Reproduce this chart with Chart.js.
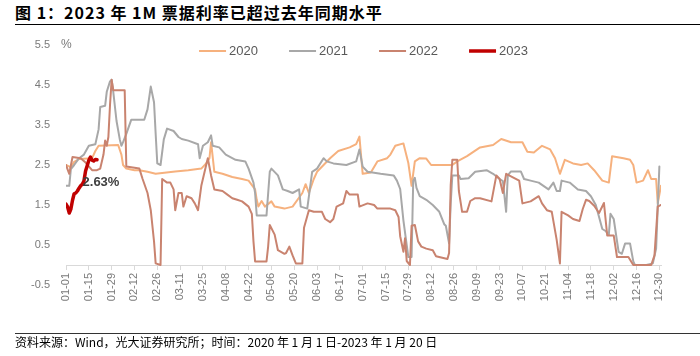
<!DOCTYPE html>
<html><head><meta charset="utf-8">
<script src="https://cdn.jsdelivr.net/npm/chart.js@4/dist/chart.umd.min.js"></script>
<style>
html,body{margin:0;padding:0;background:#fff;}
#wrap{position:relative;width:700px;height:356px;overflow:hidden;background:#fff;}
#title{position:absolute;left:15px;top:0;line-height:24px;font-weight:bold;font-size:16px;letter-spacing:1px;font-family:"Noto Sans CJK SC";color:#000;white-space:nowrap;}
#tline{position:absolute;left:15px;right:0;top:24px;height:1px;background:#000;}
#fline{position:absolute;left:15px;right:0;top:333px;height:1px;background:#333;}
#foot{position:absolute;left:15px;top:334px;line-height:16px;font-size:12px;font-family:"Noto Sans CJK SC";color:#000;white-space:nowrap;}
canvas{position:absolute;left:0;top:0;}
</style></head>
<body><div id="wrap">
<div id="title">图 1：2023 年 1M 票据利率已超过去年同期水平</div>
<div id="tline"></div>
<canvas id="c" width="700" height="356"></canvas>
<div id="fline"></div>
<div id="foot">资料来源：Wind，光大证券研究所；时间：2020 年 1 月 1 日-2023 年 1 月 20 日</div>
</div>
<script>
const tickLabels = ['01-01','01-15','01-29','02-12','02-26','03-11','03-25','04-08','04-22','05-06','05-20','06-03','06-17','07-01','07-15','07-29','08-12','08-26','09-09','09-23','10-07','10-21','11-04','11-18','12-02','12-16','12-30'];
const yTicks = [-0.5,0.5,1.5,2.5,3.5,4.5,5.5];
const seriesNames = ['2020','2021','2022','2023'];
const unitLabel = '%';
const endLabel = '2.63%';

// [day of year index, value]
const s2020 = [[0,2.5],[3,2.44],[5,2.58],[8,2.65],[16,2.67],[18,2.85],[20,2.98],[32,3.0],[34,2.76],[35,2.5],[37,2.41],[42,2.37],[45,2.37],[50,2.33],[55,2.28],[59,2.3],[67,2.34],[75,2.37],[83,2.41],[86,2.54],[88,2.67],[89,3.07],[91,2.33],[96,2.28],[102,2.2],[108,2.15],[112,2.11],[116,1.89],[117,1.63],[118,1.46],[120,1.6],[122,1.46],[126,1.59],[128,1.46],[134,1.41],[139,1.46],[145,1.8],[147,2.02],[149,1.8],[152,2.15],[154,2.33],[158,2.5],[162,2.67],[167,2.85],[174,2.94],[178,3.02],[180,3.21],[182,2.28],[187,2.31],[191,2.59],[197,2.67],[199,2.76],[202,2.98],[207,3.04],[210,2.55],[212,1.98],[214,2.59],[217,2.67],[221,2.66],[224,2.5],[237,2.5],[240,2.59],[246,2.72],[254,2.94],[262,3.0],[267,3.15],[273,3.07],[280,3.07],[283,2.83],[287,2.81],[292,2.98],[297,2.89],[300,2.67],[303,2.28],[306,2.63],[311,2.54],[316,2.5],[320,2.54],[324,2.37],[329,2.11],[333,2.06],[335,2.72],[342,2.67],[346,2.63],[348,2.5],[350,2.06],[354,2.11],[357,2.37],[359,2.15],[362,2.15],[363,1.54],[365,1.98]];
const s2021 = [[0,1.98],[2,1.98],[3,2.4],[5,2.5],[8,2.67],[11,2.76],[14,2.98],[18,3.02],[20,3.39],[21,3.95],[24,3.98],[25,4.33],[27,4.59],[28,4.63],[29,4.33],[31,3.6],[33,3.14],[34,2.98],[35,3.07],[37,3.28],[40,3.63],[48,3.63],[50,3.89],[52,4.46],[54,4.07],[55,3.28],[56,2.54],[58,2.5],[60,3.14],[62,3.41],[66,3.35],[69,3.2],[71,3.15],[75,3.11],[81,3.02],[82,2.67],[84,2.98],[87,3.07],[89,3.24],[90,2.98],[94,2.94],[98,2.76],[104,2.63],[110,2.59],[112,2.41],[115,2.06],[116,1.8],[117,1.24],[123,1.24],[125,2.33],[126,2.41],[130,2.24],[133,1.89],[136,1.85],[139,1.8],[143,1.89],[144,1.46],[148,1.41],[151,2.33],[154,2.41],[158,2.67],[160,2.59],[164,2.54],[172,2.5],[178,2.59],[180,2.89],[182,2.46],[185,2.33],[193,2.28],[201,2.24],[203,2.11],[205,1.9],[207,1.11],[209,0.5],[210,0.2],[212,0.2],[213,2.1],[214,2.18],[215,1.93],[217,1.72],[221,1.63],[225,1.5],[229,1.33],[232,1.02],[233,0.98],[235,0.54],[236,1.54],[237,2.24],[241,2.24],[242,2.15],[247,2.17],[251,2.33],[258,2.37],[262,2.28],[266,2.15],[268,2.1],[270,1.33],[271,2.24],[273,2.34],[279,2.34],[281,2.15],[285,2.11],[290,2.06],[296,1.89],[299,2.06],[301,1.85],[303,1.85],[304,2.11],[309,2.06],[314,1.89],[319,1.85],[322,1.72],[325,1.5],[327,1.2],[329,0.9],[331,0.85],[333,0.76],[334,1.28],[336,1.15],[338,0.6],[339,0.33],[341,0.28],[343,0.54],[346,0.54],[348,0.09],[349,0.0],[356,0.0],[360,0.04],[362,0.41],[364,2.46]];
const s2022 = [[0,2.5],[2,2.28],[4,2.7],[9,2.67],[12,2.56],[16,2.37],[19,2.37],[21,2.41],[23,2.76],[24,3.11],[25,2.98],[26,3.2],[27,4.0],[28,4.63],[29,4.37],[36,4.37],[37,2.46],[45,2.41],[47,2.15],[50,1.8],[52,1.37],[54,0.59],[55,0.04],[58,0.0],[59,2.15],[62,2.06],[64,2.06],[66,1.89],[67,1.37],[69,1.8],[71,1.8],[72,1.46],[74,1.72],[77,1.67],[79,1.54],[81,1.37],[83,1.98],[86,2.5],[87,2.67],[89,2.24],[91,1.89],[96,1.85],[99,1.76],[102,1.67],[105,1.63],[108,1.59],[112,1.46],[114,1.28],[115,0.59],[116,0.09],[123,0.09],[124,0.46],[125,1.0],[128,0.76],[130,0.37],[134,0.28],[135,0.3],[137,0.46],[139,0.24],[141,0.04],[145,0.04],[146,0.93],[149,1.37],[152,1.33],[157,1.33],[159,1.15],[162,1.07],[164,1.15],[166,1.46],[170,1.54],[172,1.85],[174,1.76],[179,1.76],[180,1.46],[185,1.54],[189,1.5],[191,1.41],[199,1.41],[202,1.37],[204,1.2],[205,0.72],[207,0.33],[208,0.67],[209,0.1],[211,0.0],[212,0.98],[214,1.0],[216,0.59],[218,0.46],[221,0.41],[225,0.37],[227,0.22],[234,0.15],[235,0.3],[236,2.0],[237,2.63],[240,2.63],[241,1.85],[243,1.33],[246,1.33],[248,1.6],[251,1.67],[254,1.67],[261,1.59],[264,2.24],[266,2.15],[268,1.8],[270,2.28],[278,2.11],[280,1.54],[285,1.59],[290,1.72],[292,1.54],[295,1.37],[298,1.33],[301,0.63],[303,0.04],[304,1.33],[308,1.24],[311,1.15],[315,1.1],[317,1.4],[319,1.63],[321,1.6],[324,1.48],[327,1.3],[330,1.55],[332,0.74],[336,0.74],[338,0.2],[345,0.2],[348,0.0],[359,0.0],[361,0.24],[363,1.46],[365,1.5]];
// 2023: daily values from 01-01 to 01-20
const v2023 = [1.52,1.45,1.30,1.40,1.62,1.78,1.80,1.85,1.92,1.98,2.02,2.10,2.35,2.48,2.62,2.70,2.62,2.60,2.64,2.63];

const colors = ['#F6B17E','#A8A8A8','#C9836F','#C00000'];
const widths = [2,2,2,3.5];
const orders = [4,3,2,1];

const toXY = arr => arr.map(p => ({x:p[0], y:p[1]}));
const seriesData = [toXY(s2020), toXY(s2021), toXY(s2022), v2023.map((v,i)=>({x:i,y:v}))];

const datasets = seriesNames.map((n,i)=>({
  label:n, data:seriesData[i], borderColor:colors[i], backgroundColor:colors[i],
  borderWidth:widths[i], order:orders[i], pointRadius:0, tension:0, fill:false,
  borderJoinStyle:'round', borderCapStyle:'round'
}));

const legendPlugin = {
  id:'legendLines',
  afterDraw(chart){
    const {ctx, chartArea} = chart;
    ctx.save();
    ctx.font = '13px "Liberation Sans"';
    const sample = 27, gap = 3, pitch = 90;
    const ds = chart.data.datasets;
    const lastW = sample + gap + ctx.measureText(ds[ds.length-1].label).width;
    const total = pitch*(ds.length-1) + lastW;
    const x0 = (chartArea.left + chartArea.right)/2 - total/2;
    const y = chartArea.top + 6;
    ds.forEach((d,i)=>{
      const x = x0 + i*pitch;
      ctx.strokeStyle = d.borderColor;
      ctx.lineWidth = d.borderWidth > 3 ? 3.5 : 2;
      ctx.lineCap = 'butt';
      ctx.beginPath(); ctx.moveTo(x, y); ctx.lineTo(x+sample, y); ctx.stroke();
      ctx.fillStyle = '#595959';
      ctx.textBaseline = 'middle';
      ctx.textAlign = 'left';
      ctx.fillText(d.label, x+sample+gap, y);
    });
    // unit label next to top tick
    const ys = chart.scales.y;
    ctx.font = '12px "Liberation Sans"';
    ctx.fillStyle = '#7a7a7a';
    ctx.fillText(unitLabel, chartArea.left - 5, ys.getPixelForValue(yTicks[yTicks.length-1]));
    ctx.restore();
  },
  afterDatasetsDraw(chart){
    const {ctx} = chart;
    const meta = chart.getDatasetMeta(3);
    const pt = meta.data[meta.data.length-1];
    ctx.save();
    ctx.font = 'bold 13px "Liberation Sans"';
    ctx.fillStyle = '#404040';
    ctx.textAlign = 'center';
    ctx.textBaseline = 'middle';
    ctx.fillText(endLabel, pt.x + 4, pt.y + 23);
    ctx.restore();
  }
};

new Chart(document.getElementById('c'), {
  type:'line',
  data:{datasets},
  plugins:[legendPlugin],
  options:{
    responsive:false, animation:false, devicePixelRatio:1,
    layout:{padding:{left:26,right:39,top:45,bottom:71}},
    plugins:{legend:{display:false}, tooltip:{enabled:false}},
    scales:{
      x:{type:'linear', min:0, max:365, position:{y:0},
        afterBuildTicks: s => { s.ticks = tickLabels.map((_,i)=>({value:i*14})); },
        afterFit: s => { s.height = 10; },
        ticks:{autoSkip:false, maxRotation:90, minRotation:90, padding:4, color:'#7a7a7a',
          font:{size:11, family:'Liberation Sans'}, callback:(v,i)=>tickLabels[i]},
        grid:{drawOnChartArea:false, drawTicks:true, tickLength:4, color:'#d9d9d9'},
        border:{display:true, color:'#d9d9d9', width:1}
      },
      y:{type:'linear', min:-0.5, max:5.5,
        afterBuildTicks: s => { s.ticks = yTicks.map(v=>({value:v})); },
        afterFit: s => { s.width = 40; },
        ticks:{padding:16, color:'#7a7a7a', font:{size:11, family:'Liberation Sans'}, callback:v=>String(v)},
        grid:{display:false, drawTicks:false},
        border:{display:false}
      }
    }
  }
});
</script>
</body></html>
